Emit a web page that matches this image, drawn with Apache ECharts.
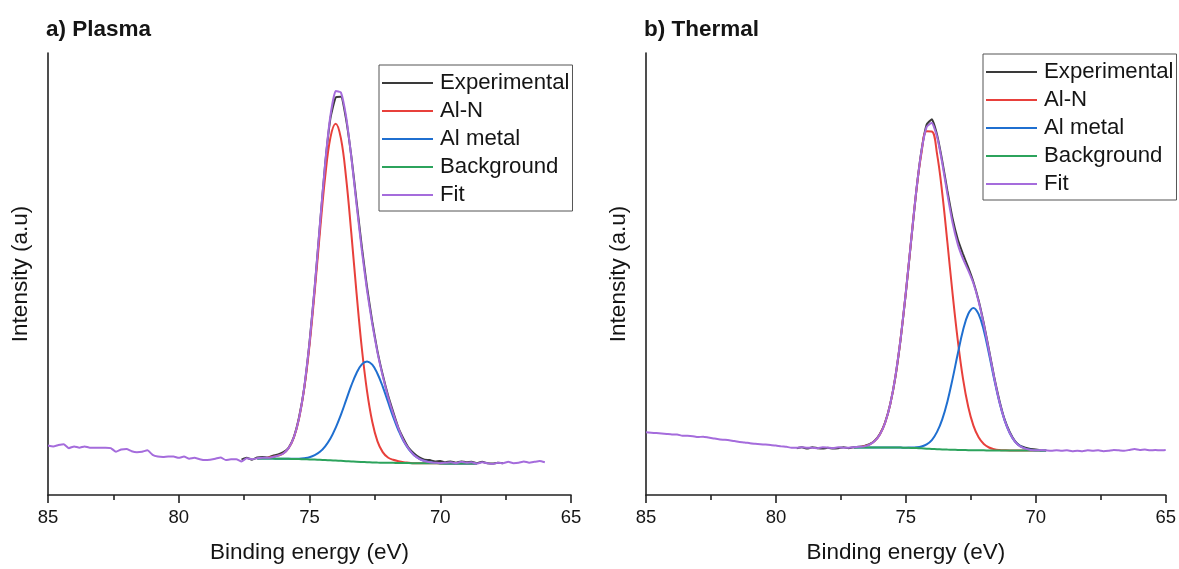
<!DOCTYPE html>
<html>
<head>
<meta charset="utf-8">
<title>Al 2p XPS</title>
<script src="https://cdn.jsdelivr.net/npm/echarts@6/dist/echarts.min.js"></script>
<style>
  html, body { margin: 0; padding: 0; background: #ffffff; }
  #chart { width: 1179px; height: 569px; }
</style>
</head>
<body>
<div id="chart"></div>
<script>
// ---- Panel a) Plasma : binding energy grid (eV) and intensities (a.u.) ----
const energyA = [85,84.8,84.6,84.4,84.2,84,83.8,83.6,83.4,83.2,83,82.8,82.6,82.4,82.2,82,81.8,81.6,81.4,81.2,81,80.8,80.6,80.4,80.2,80,79.8,79.6,79.4,79.2,79,78.8,78.6,78.4,78.2,78,77.8,77.6,77.4,77.2,77,76.8,76.6,76.4,76.2,76,75.8,75.6,75.4,75.2,75,74.8,74.6,74.4,74.2,74,73.8,73.6,73.4,73.2,73,72.8,72.6,72.4,72.2,72,71.8,71.6,71.4,71.2,71,70.8,70.6,70.4,70.2,70,69.8,69.6,69.4,69.2,69,68.8,68.6,68.4,68.2,68,67.8,67.6,67.4,67.2,67,66.8,66.6,66.4,66.2,66];
const fitA = [112,110,113,115,106,110,107,110,107,107,107,107,106,98,103,104,99,97,98,101,91,87,86,87,87,84,87,82,84,81,79,80,82,85,79,81,81,76,83,81,
  83,84,84,86,89,94,106,130,174,244,344,471,614,751,858,914,911,856,764,657,554,463,387,322,269,223,184,151,123,104,90,82,77,74,73,72,
  73,74,72,75,73,74,71,74,72,70,73,72,75,72,73,76,73,75,77,74];
const experimentalStartA = 77.6;
const experimentalA = [80,84,80,85,86,85,89,92,97,107,131,176,243,345,470,611,749,852,899,901,850,766,664,562,470,392,325,272,226,188,152,127,106,94,85,80,79,76,77,74,76,73,76,74,75,72,75,72,71,73,72];
const componentStartA = 77.0;
const alnA = [83,83.5,84.4,86.3,89.1,94,105.8,129.5,173.2,241.9,338.5,461.1,595.6,720.1,808.6,840,807.3,717.5,591.8,456.1,332.6,235.2,165.8,121.4,97.1,84.9,79.7,76.5,74.3,73.2,72,71.9,71.8,71.7,71.6,71.5,71.5,71.5,71.5,71.5,71.5,71.5,71.5];
const alMetalA = [82.5,82.5,82.4,82.3,82.1,82,81.8,82,82.2,83.4,85.5,90.1,97.6,110.1,127.6,152,181.3,214.5,247.8,276.1,295.6,302.2,294.8,274.4,245.1,210.9,176.7,146.5,121.3,103.2,90,81.9,76.8,74.2,72.6,72,71.5,71.5,71.5,71.5,71.5,71.5,71.5];
const backgroundA = [82.5,82.5,82.4,82.3,82.1,82,81.8,81.5,81.2,80.9,80.5,80.1,79.6,79.1,78.6,78,77.3,76.5,75.8,75.1,74.6,74.2,73.8,73.4,73.1,72.9,72.7,72.5,72.3,72.2,72,71.9,71.8,71.7,71.6,71.5,71.5,71.5,71.5,71.5,71.5,71.5,71.5];

// ---- Panel b) Thermal ----
const energyB = [85,84.8,84.6,84.4,84.2,84,83.8,83.6,83.4,83.2,83,82.8,82.6,82.4,82.2,82,81.8,81.6,81.4,81.2,81,80.8,80.6,80.4,80.2,80,79.8,79.6,79.4,79.2,79,78.8,78.6,78.4,78.2,78,77.8,77.6,77.4,77.2,77,76.8,76.6,76.4,76.2,76,75.8,75.6,75.4,75.2,75,74.8,74.6,74.4,74.2,74,73.8,73.6,73.4,73.2,73,72.8,72.6,72.4,72.2,72,71.8,71.6,71.4,71.2,71,70.8,70.6,70.4,70.2,70,69.8,69.6,69.4,69.2,69,68.8,68.6,68.4,68.2,68,67.8,67.6,67.4,67.2,67,66.8,66.6,66.4,66.2,66,65.8,65.6,65.4,65.2,65];
const fitB = [142,141,140,139,138,137,137,134,134,133,131,132,130,128,126,125,124,122,120,119,117,116,115,114,113,112,110,109,107,107,108,107,107,106,108,107,106,108,107,107,
  108,109,110,114,122,137,163,206,269,354,459,575,688,778,833,842,811,751,680,615,567,534,508,479,438,386,326,265,211,169,140,121,110,105,102,101,
  102,101,100,101,100,101,99,100,99,101,100,101,99,100,102,101,100,102,104,102,103,101,102,101,102];
const experimentalStartB = 79.2;
const experimentalB = [106,108,105,108,106,105,107,105,106,108,106,108,109,111,115,123,138,164,206,268,353,457,573,687,779,838,850,815,756,688,625,578,545,515,482,440,388,328,267,214,171,142,122,111,107,104,103,101];
const componentStartB = 77.0;
const alnB = [107.9,108.6,110.4,114.2,122,137,163.2,205.6,268.5,354.3,459,574.6,686.1,773.5,822.9,822.3,771.7,683.2,570.7,454.3,349,262.7,199.5,156.8,130.4,115.3,107.5,103.6,101.8,101.1,100.7,100.7,100.7,100.7,100.7,100.7,100.7,100.7];
const alMetalB = [107.5,107.5,107.6,107.6,107.7,107.7,107.7,107.6,107.5,107.3,107,107.2,107.8,109.8,114.6,124.3,142.7,171.2,211.7,263.3,320,372.7,409.5,423.3,409.1,372,318.9,261.8,209.7,168.7,139.7,120.7,110.4,105,102.4,101.3,100.9,100.7];
const backgroundB = [107.5,107.5,107.6,107.6,107.7,107.7,107.7,107.6,107.5,107.3,107,106.6,106.1,105.5,104.9,104.3,103.7,103.2,102.7,102.3,102,101.7,101.5,101.3,101.1,101,100.9,100.8,100.7,100.7,100.7,100.7,100.7,100.7,100.7,100.7,100.7,100.7];

const seriesNames = ['Experimental', 'Al-N', 'Al metal', 'Background', 'Fit'];
const seriesColors = ['#3a3a3a', '#e8403b', '#1f6fd0', '#2ca35c', '#a56cdc'];
const xTicks = [85, 80, 75, 70, 65];

// pair a run of values with the energy grid, starting at a given energy
function pairs(energy, start, values) {
  const i0 = energy.findIndex(e => Math.abs(e - start) < 1e-6);
  return values.map((v, i) => [energy[i0 + i], v]);
}

const FONT = '"Liberation Sans", Arial, Helvetica, sans-serif';
const INK = '#151515';

function xAxisFor(gridIndex) {
  return {
    type: 'value', gridIndex: gridIndex,
    min: xTicks[xTicks.length - 1], max: xTicks[0], interval: 5, inverse: true,
    axisLine: { show: true, onZero: false, lineStyle: { color: '#222', width: 1.6 } },
    axisTick: { show: true, length: 8, lineStyle: { color: '#222', width: 1.6 } },
    minorTick: { show: true, splitNumber: 2, length: 5, lineStyle: { color: '#222', width: 1.6 } },
    splitLine: { show: false },
    axisLabel: { fontSize: 18.5, color: INK, margin: 13, fontFamily: FONT },
    name: 'Binding energy (eV)', nameLocation: 'middle', nameGap: 46,
    nameTextStyle: { fontSize: 22.5, color: INK, fontFamily: FONT }
  };
}
function yAxisFor(gridIndex) {
  return {
    type: 'value', gridIndex: gridIndex, min: 0, max: 1000,
    axisLine: { show: true, lineStyle: { color: '#222', width: 1.6 } },
    axisTick: { show: false }, axisLabel: { show: false }, splitLine: { show: false },
    name: 'Intensity (a.u)', nameLocation: 'middle', nameGap: 16,
    nameTextStyle: { fontSize: 22.5, color: INK, fontFamily: FONT }
  };
}
function legendAt(left, top) {
  return {
    data: seriesNames, orient: 'vertical', left: left, top: top,
    icon: 'rect', itemWidth: 51, itemHeight: 2, itemGap: 0,
    padding: [4, 3, 2, 3],
    borderColor: '#555', borderWidth: 1, backgroundColor: '#ffffff',
    textStyle: { fontSize: 22.2, lineHeight: 28, color: INK, fontFamily: FONT, padding: [0, 0, 0, 2] },
    selectedMode: false
  };
}
function lineSeries(name, color, data, axisIndex, smooth) {
  return {
    name: name, type: 'line', xAxisIndex: axisIndex, yAxisIndex: axisIndex,
    data: data, showSymbol: false, symbol: 'none', smooth: smooth,
    lineStyle: { color: color, width: 2 }, itemStyle: { color: color },
    emphasis: { disabled: true }, z: 2
  };
}
function panelSeries(idx, energy, expStart, exp, compStart, aln, metal, bg, fit) {
  return [
    lineSeries(seriesNames[0], seriesColors[0], pairs(energy, expStart, exp), idx, 0.15),
    lineSeries(seriesNames[1], seriesColors[1], pairs(energy, compStart, aln), idx, 0.4),
    lineSeries(seriesNames[2], seriesColors[2], pairs(energy, compStart, metal), idx, 0.4),
    lineSeries(seriesNames[3], seriesColors[3], pairs(energy, compStart, bg), idx, 0.4),
    lineSeries(seriesNames[4], seriesColors[4], pairs(energy, energy[0], fit), idx, 0.15)
  ];
}

const chart = echarts.init(document.getElementById('chart'), null, { renderer: 'canvas' });
chart.setOption({
  animation: false,
  backgroundColor: '#ffffff',
  textStyle: { fontFamily: FONT },
  title: [
    { text: 'a) Plasma', left: 41, top: 13, textStyle: { fontSize: 22.5, fontWeight: 'bold', color: INK, fontFamily: FONT } },
    { text: 'b) Thermal', left: 639, top: 13, textStyle: { fontSize: 22.5, fontWeight: 'bold', color: INK, fontFamily: FONT } }
  ],
  grid: [
    { left: 48, top: 53, width: 523, height: 447 },
    { left: 646, top: 53, width: 521, height: 447 }
  ],
  xAxis: [xAxisFor(0), xAxisFor(1)],
  yAxis: [yAxisFor(0), yAxisFor(1)],
  legend: [legendAt(379, 65), legendAt(983, 54)],
  series: [].concat(
    panelSeries(0, energyA, experimentalStartA, experimentalA, componentStartA, alnA, alMetalA, backgroundA, fitA),
    panelSeries(1, energyB, experimentalStartB, experimentalB, componentStartB, alnB, alMetalB, backgroundB, fitB)
  )
});
</script>
</body>
</html>
